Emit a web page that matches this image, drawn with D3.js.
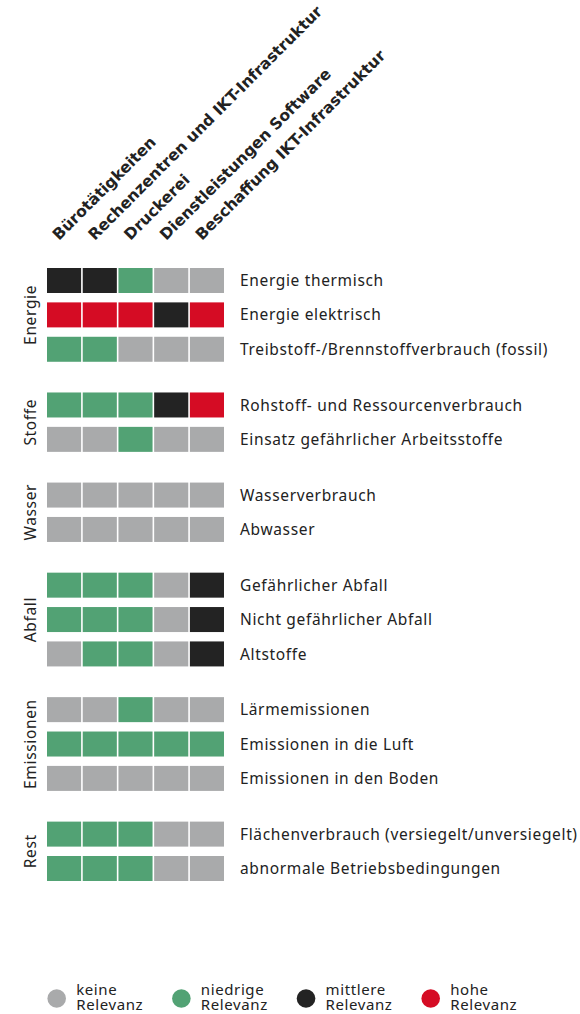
<!DOCTYPE html>
<html>
<head>
<meta charset="utf-8">
<script src="https://cdn.jsdelivr.net/npm/d3@7"></script>
<style>
  html, body { margin: 0; padding: 0; background: #fff; }
  svg { display: block; }
  .lbl { font-family: "Noto Sans", sans-serif; font-size: 15.5px; fill: #222; letter-spacing: 0.65px; }
  .leg { font-family: "Noto Sans", sans-serif; font-size: 15px; fill: #222; letter-spacing: 0.6px; }
  .hdr { font-family: "DejaVu Sans", sans-serif; font-weight: bold; font-size: 15.6px; fill: #222; }
</style>
</head>
<body>
<svg id="chart" width="580" height="1014"></svg>
<script>
// ---- data ----
const categories = [
  "Bürotätigkeiten",
  "Rechenzentren und IKT-Infrastruktur",
  "Druckerei",
  "Dienstleistungen Software",
  "Beschaffung IKT-Infrastruktur"
];
const groups = ["Energie", "Stoffe", "Wasser", "Abfall", "Emissionen", "Rest"];
const aspects = [
  "Energie thermisch",
  "Energie elektrisch",
  "Treibstoff-/Brennstoffverbrauch (fossil)",
  "Rohstoff- und Ressourcenverbrauch",
  "Einsatz gefährlicher Arbeitsstoffe",
  "Wasserverbrauch",
  "Abwasser",
  "Gefährlicher Abfall",
  "Nicht gefährlicher Abfall",
  "Altstoffe",
  "Lärmemissionen",
  "Emissionen in die Luft",
  "Emissionen in den Boden",
  "Flächenverbrauch (versiegelt/unversiegelt)",
  "abnormale Betriebsbedingungen"
];
const aspectGroup = [0, 0, 0, 1, 1, 2, 2, 3, 3, 3, 4, 4, 4, 5, 5];
// 0 = keine, 1 = niedrige, 2 = mittlere, 3 = hohe Relevanz
const relevance = [
  [2, 2, 1, 0, 0],
  [3, 3, 3, 2, 3],
  [1, 1, 0, 0, 0],
  [1, 1, 1, 2, 3],
  [0, 0, 1, 0, 0],
  [0, 0, 0, 0, 0],
  [0, 0, 0, 0, 0],
  [1, 1, 1, 0, 2],
  [1, 1, 1, 0, 2],
  [0, 1, 1, 0, 2],
  [0, 0, 1, 0, 0],
  [1, 1, 1, 1, 1],
  [0, 0, 0, 0, 0],
  [1, 1, 1, 0, 0],
  [1, 1, 1, 0, 0]
];
const levelLine1 = ["keine", "niedrige", "mittlere", "hohe"];
const levelLine2 = ["Relevanz", "Relevanz", "Relevanz", "Relevanz"];

// ---- styles ----
const levelColors = ["#a9aaab", "#52a274", "#232323", "#d50c24"];

// ---- layout ----
const svg = d3.select("#chart");
const gridLeft = 47, gridRight = 224;
const rowH = 25;
const groupGapSlots = 0.62; // extra gap between groups, in row slots

const x = d3.scaleBand().domain(d3.range(categories.length)).range([gridLeft, gridRight]).paddingInner(0.045);
const color = d3.scaleOrdinal().domain(d3.range(levelColors.length)).range(levelColors);

const slot = aspects.map((d, i) => i + aspectGroup[i] * groupGapSlots);
const y = d3.scaleLinear()
  .domain([0, d3.max(slot)])
  .range([268, 856]);

const cells = [];
relevance.forEach((row, r) => row.forEach((v, c) => cells.push({ r, c, v })));

svg.append("g").selectAll("rect")
  .data(cells)
  .join("rect")
  .attr("x", d => x(d.c))
  .attr("y", d => y(slot[d.r]))
  .attr("width", x.bandwidth())
  .attr("height", rowH)
  .attr("fill", d => color(d.v));

// row labels
svg.append("g").selectAll("text")
  .data(aspects)
  .join("text")
  .attr("class", "lbl")
  .attr("x", 240)
  .attr("y", (d, i) => y(slot[i]) + rowH / 2)
  .attr("dy", "0.36em")
  .text(d => d);

// group labels
svg.append("g").selectAll("text")
  .data(groups)
  .join("text")
  .attr("class", "lbl")
  .attr("text-anchor", "middle")
  .attr("transform", (g, gi) => {
    const idx = aspectGroup.map((a, i) => a === gi ? i : -1).filter(i => i >= 0);
    const top = y(slot[idx[0]]);
    const bot = y(slot[idx[idx.length - 1]]) + rowH;
    return `translate(36,${(top + bot) / 2}) rotate(-90)`;
  })
  .text(d => d);

// column headers
svg.append("g").selectAll("text")
  .data(categories)
  .join("text")
  .attr("class", "hdr")
  .attr("transform", (d, i) => `translate(${x(i) + x.bandwidth() / 2 - 5},241) rotate(-45)`)
  .text(d => d);

// legend
const lx = d3.scalePoint().domain(d3.range(levelLine1.length)).range([56.7, 430.7]);
const leg = svg.append("g").selectAll("g")
  .data(levelLine1)
  .join("g")
  .attr("transform", (d, i) => `translate(${lx(i)},998.5)`);
leg.append("circle").attr("r", 9.3).attr("fill", (d, i) => color(i));
const lt = leg.append("text").attr("class", "leg").attr("x", 19.5).attr("y", -3.5);
lt.append("tspan").attr("x", 19.5).text(d => d);
lt.append("tspan").attr("x", 19.5).attr("dy", 15).text((d, i) => levelLine2[i]);
</script>
</body>
</html>
